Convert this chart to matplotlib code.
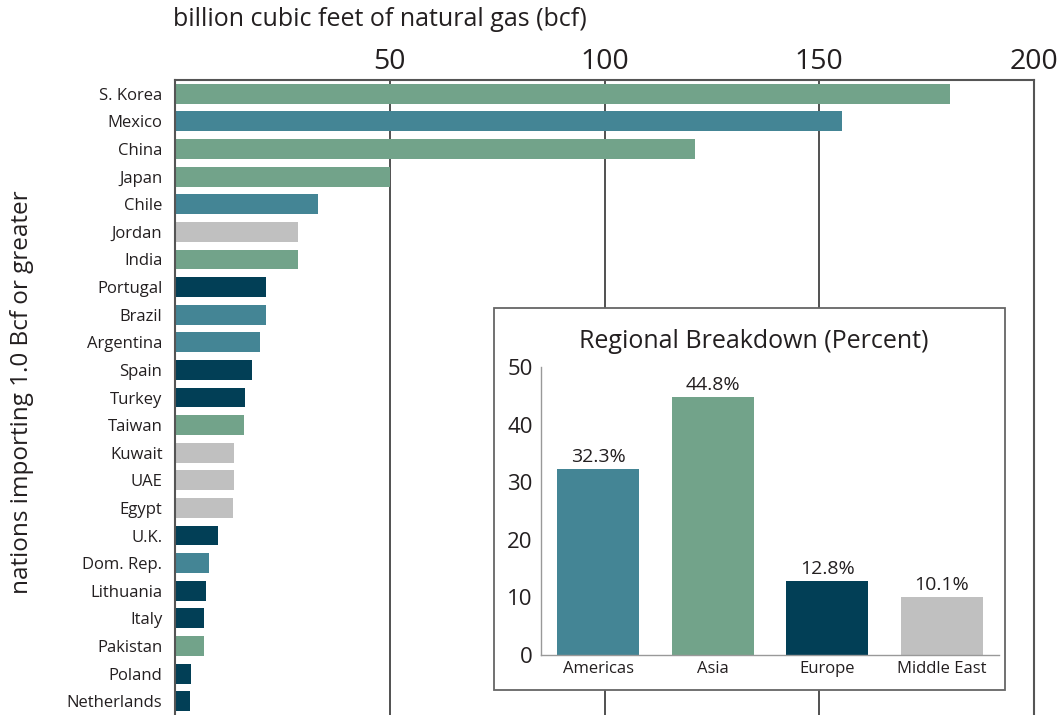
import matplotlib
matplotlib.use("Agg")
import matplotlib.pyplot as plt
from matplotlib.patches import Rectangle

plt.rcParams["font.family"] = ["Open Sans", "DejaVu Sans"]

# main chart data (bcf), top to bottom
countries = ["S. Korea", "Mexico", "China", "Japan", "Chile", "Jordan", "India",
             "Portugal", "Brazil", "Argentina", "Spain", "Turkey", "Taiwan",
             "Kuwait", "UAE", "Egypt", "U.K.", "Dom. Rep.", "Lithuania", "Italy",
             "Pakistan", "Poland", "Netherlands"]
volumes = [180.4, 155.4, 121.0, 50.0, 33.3, 28.7, 28.7,
           21.3, 21.2, 19.9, 17.9, 16.2, 16.1,
           13.7, 13.7, 13.5, 10.1, 8.0, 7.2, 6.7,
           6.7, 3.8, 3.4]
regions = ["Asia", "Americas", "Asia", "Asia", "Americas", "Middle East", "Asia",
           "Europe", "Americas", "Americas", "Europe", "Europe", "Asia",
           "Middle East", "Middle East", "Middle East", "Europe", "Americas", "Europe", "Europe",
           "Asia", "Europe", "Europe"]
x_ticks = [50, 100, 150, 200]

# inset data (percent)
region_names = ["Americas", "Asia", "Europe", "Middle East"]
region_share = [32.3, 44.8, 12.8, 10.1]
inset_ticks = [0, 10, 20, 30, 40, 50]

colors = {"Americas": "#448595", "Asia": "#72a38a", "Europe": "#023f56", "Middle East": "#c0c0c0"}
text_c = "#231f20"
spine_c = "#555555"

fig = plt.figure(figsize=(10.62, 7.15), dpi=100)

# main horizontal bar chart
ax = fig.add_axes([175 / 1062, 0, (1034 - 175) / 1062, 1 - 80 / 715])
ypos = list(range(len(countries)))
ax.barh(ypos, volumes, height=0.72, color=[colors[r] for r in regions], zorder=2)
ax.set_ylim(len(countries) - 0.5, -0.5)
ax.set_xlim(0, 200)
ax.set_yticks(ypos)
ax.set_yticklabels(countries, fontsize=12, color=text_c)
ax.xaxis.tick_top()
ax.set_xticks(x_ticks)
ax.set_xticklabels([str(t) for t in x_ticks], fontsize=20.5, color=text_c)
ax.tick_params(axis="both", length=0)
ax.tick_params(axis="y", pad=9)
ax.tick_params(axis="x", pad=3)
for xv in x_ticks[:-1]:
    ax.axvline(xv, color="#333333", lw=1.2, zorder=1)
ax.spines["bottom"].set_visible(False)
for s in ["top", "left", "right"]:
    ax.spines[s].set_color(spine_c)
    ax.spines[s].set_linewidth(1.5)

fig.text(173 / 1062, 1 - 19 / 715, "billion cubic feet of natural gas (bcf)",
         fontsize=18, color=text_c, ha="left", va="center")
fig.text(22 / 1062, 1 - 392 / 715, "nations importing 1.0 Bcf or greater",
         fontsize=17.5, color=text_c, ha="center", va="center", rotation=90)

# inset box
box = Rectangle((494 / 1062, 1 - 690 / 715), (1005 - 494) / 1062, (690 - 308) / 715,
                transform=fig.transFigure, facecolor="white", edgecolor="#666666",
                lw=1.3, zorder=5)
fig.patches.append(box)

ins = fig.add_axes([541 / 1062, 1 - 655 / 715, (999 - 541) / 1062, (655 - 367) / 715])
ins.set_zorder(6)
ins.patch.set_alpha(0)
xpos = list(range(len(region_names)))
ins.bar(xpos, region_share, width=0.72, color=[colors[r] for r in region_names])
for xp, v in zip(xpos, region_share):
    ins.text(xp, v + 0.5, f"{v}%", ha="center", va="bottom", fontsize=14, color=text_c)
ins.set_xlim(-0.5, 3.5)
ins.set_ylim(0, 50)
ins.set_xticks(xpos)
ins.set_xticklabels(region_names, fontsize=12, color=text_c)
ins.set_yticks(inset_ticks)
ins.set_yticklabels([str(t) for t in inset_ticks], fontsize=16, color=text_c)
ins.tick_params(axis="both", length=0)
ins.tick_params(axis="y", pad=6)
ins.tick_params(axis="x", pad=4)
for s in ["top", "right"]:
    ins.spines[s].set_visible(False)
for s in ["left", "bottom"]:
    ins.spines[s].set_color("#999999")
    ins.spines[s].set_linewidth(1.0)
fig.text(754 / 1062, 1 - 341 / 715, "Regional Breakdown (Percent)",
         fontsize=18, color=text_c, ha="center", va="center", zorder=7)

fig.savefig("out.png", dpi=100)
